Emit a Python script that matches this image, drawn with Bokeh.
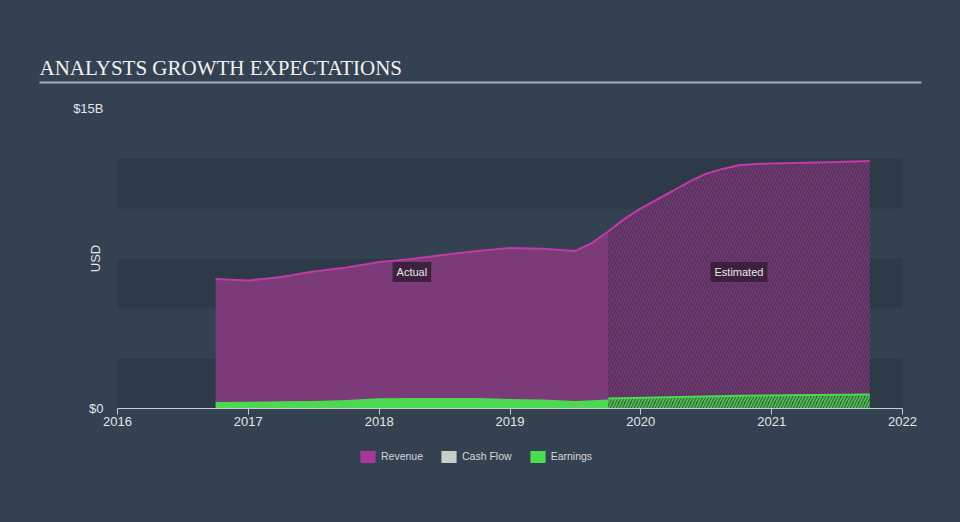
from bokeh.plotting import figure
from bokeh.layouts import column
from bokeh.models import (ColumnDataSource, FixedTicker, Label, BoxAnnotation,
                          Legend, LegendItem)
from bokeh.embed import file_html
from bokeh.resources import INLINE

# ---------------- data (USD billions) ----------------
x_ticks = [2016, 2017, 2018, 2019, 2020, 2021, 2022]
x_tick_labels = ["2016", "2017", "2018", "2019", "2020", "2021", "2022"]
y_ticks = [0, 15]
y_tick_labels = ["$0", "$15B"]

rev_actual_x = [2016.75, 2017.0, 2017.25, 2017.5, 2017.75, 2018.0, 2018.25,
                2018.5, 2018.75, 2019.0, 2019.25, 2019.5, 2019.625, 2019.75]
rev_actual_y = [6.48, 6.40, 6.58, 6.85, 7.05, 7.33, 7.48,
                7.69, 7.88, 8.03, 7.99, 7.88, 8.27, 8.85]

rev_est_x = [2019.75, 2019.875, 2020.0, 2020.125, 2020.25, 2020.375, 2020.5,
             2020.625, 2020.75, 2020.875, 2021.0, 2021.25, 2021.5, 2021.75]
rev_est_y = [8.85, 9.48, 10.01, 10.45, 10.90, 11.36, 11.74,
             11.98, 12.16, 12.22, 12.25, 12.29, 12.33, 12.37]

earn_actual_x = [2016.75, 2017.0, 2017.25, 2017.5, 2017.75, 2018.0, 2018.25,
                 2018.5, 2018.75, 2019.0, 2019.25, 2019.5, 2019.75]
earn_actual_y = [0.32, 0.34, 0.36, 0.38, 0.43, 0.51, 0.53,
                 0.53, 0.53, 0.48, 0.45, 0.38, 0.45]

earn_est_x = [2019.75, 2020.75, 2021.75]
earn_est_y = [0.50, 0.64, 0.70]

legend_names = ["Revenue", "Cash Flow", "Earnings"]
legend_colors = ["#a9379a", "#cccccc", "#4cdc50"]

title_text = "ANALYSTS GROWTH EXPECTATIONS"

# ---------------- styles ----------------
BG = "#334151"
BAND = "#2d3a48"
REV_FILL = "#7b3a78"
REV_LINE = "#c03aa8"
EARN = "#4cd850"
TXT = "#e4e6e8"
FONT = "Liberation Sans"
NAN = float("nan")

W = 960
TOP_H = 96
MAIN_H = 352
LEG_H = 522 - TOP_H - MAIN_H


def bare(fig):
    fig.background_fill_color = None
    fig.border_fill_color = None
    fig.outline_line_color = None
    fig.grid.visible = False
    return fig


# ---------------- title strip ----------------
t = bare(figure(width=W, height=TOP_H, x_range=(0, W), y_range=(TOP_H, 0),
                output_backend="svg", toolbar_location=None, title=None,
                x_axis_location=None, y_axis_location=None, min_border=0))
t.frame_align = False
t.add_layout(Label(x=39, y=67, text=title_text, text_font="Liberation Serif",
                   text_font_size="21px", text_color="#f2f2f2",
                   text_baseline="middle", text_align="left"))
t.add_layout(BoxAnnotation(left=39, right=921, bottom=83, top=81,
                           fill_color="#a3abb3", fill_alpha=1, line_color=None))

# ---------------- main chart ----------------
p = bare(figure(width=W, height=MAIN_H, x_range=(2016, 2022), y_range=(0, 15),
                output_backend="svg", toolbar_location=None, title=None,
                min_border_left=117, min_border_right=58,
                min_border_top=12, min_border_bottom=MAIN_H - 12 - 300))

for b0 in (0, 5, 10):
    p.add_layout(BoxAnnotation(bottom=b0, top=b0 + 2.5, fill_color=BAND,
                               fill_alpha=1, line_color=None, level="underlay"))

src_ra = ColumnDataSource(dict(x=rev_actual_x, y=rev_actual_y))
p.varea(x="x", y1=0, y2="y", source=src_ra, fill_color=REV_FILL)
src_re = ColumnDataSource(dict(x=rev_est_x, y=rev_est_y))
p.varea(x="x", y1=0, y2="y", source=src_re, fill_color=REV_FILL,
        hatch_pattern="/", hatch_color="#3e2d4a", hatch_alpha=0.65,
        hatch_scale=6, hatch_weight=1.6)
p.line(x="x", y="y", source=src_ra, line_color=REV_LINE, line_width=2)
p.line(x="x", y="y", source=src_re, line_color=REV_LINE, line_width=2)

src_ea = ColumnDataSource(dict(x=earn_actual_x, y=earn_actual_y))
p.varea(x="x", y1=0, y2="y", source=src_ea, fill_color=EARN)
src_ee = ColumnDataSource(dict(x=earn_est_x, y=earn_est_y))
p.varea(x="x", y1=0, y2="y", source=src_ee, fill_color="#34463f",
        hatch_pattern="/", hatch_color=EARN, hatch_alpha=0.85,
        hatch_scale=6, hatch_weight=1.9)
p.line(x="x", y="y", source=src_ee, line_color=EARN, line_width=2)

p.xaxis.ticker = FixedTicker(ticks=x_ticks)
p.xaxis.major_label_overrides = {t_: l for t_, l in zip(x_ticks, x_tick_labels)}
p.xaxis.axis_line_color = "#c5ccd4"
p.xaxis.major_tick_line_color = "#c5ccd4"
p.xaxis.major_tick_out = 6
p.xaxis.major_tick_in = 0
p.xaxis.minor_tick_line_color = None
p.xaxis.major_label_standoff = 2
p.xaxis.major_label_text_font = FONT
p.xaxis.major_label_text_font_size = "13px"
p.xaxis.major_label_text_color = TXT

p.yaxis.ticker = FixedTicker(ticks=y_ticks)
p.yaxis.major_label_overrides = {t_: l for t_, l in zip(y_ticks, y_tick_labels)}
p.yaxis.axis_line_color = None
p.yaxis.major_tick_line_color = None
p.yaxis.minor_tick_line_color = None
p.yaxis.major_tick_out = 0
p.yaxis.major_tick_in = 0
p.yaxis.major_label_standoff = 14
p.yaxis.major_label_text_font = FONT
p.yaxis.major_label_text_font_size = "13px"
p.yaxis.major_label_text_color = TXT
p.yaxis.axis_label = "USD"
p.yaxis.axis_label_standoff = -33
p.yaxis.axis_label_text_font = FONT
p.yaxis.axis_label_text_font_size = "13px"
p.yaxis.axis_label_text_font_style = "normal"
p.yaxis.axis_label_text_color = TXT

for tx, txt in ((2018.25, "Actual"), (2020.75, "Estimated")):
    p.add_layout(Label(x=tx, y=6.83, text=txt, text_align="center",
                       text_baseline="middle", text_font=FONT,
                       text_font_size="11px", text_color="#e6e6e6",
                       background_fill_color="#3a1e3a", background_fill_alpha=0.92,
                       padding=4))

# ---------------- legend strip ----------------
lg = bare(figure(width=W, height=LEG_H, x_range=(0, W), y_range=(LEG_H, 0),
                 output_backend="svg", toolbar_location=None, title=None,
                 x_axis_location=None, y_axis_location=None, min_border=0))
lg.frame_align = False
items = []
for name, col in zip(legend_names, legend_colors):
    r = lg.quad(left=[NAN], right=[NAN], top=[NAN], bottom=[NAN],
                fill_color=col, line_color=None)
    items.append(LegendItem(label=name, renderers=[r]))
legend = Legend(items=items, orientation="horizontal",
                location=(358, LEG_H - 15.5),
                glyph_width=19, glyph_height=15, label_height=15,
                label_standoff=4, spacing=16, padding=0, margin=0,
                border_line_color=None, background_fill_alpha=0,
                label_text_font=FONT, label_text_font_size="10.5px",
                label_text_color="#d6d8da")
lg.add_layout(legend)

layout = column(t, p, lg, spacing=0, styles={"background-color": BG})
open("out.html", "w").write(file_html(layout, INLINE))
